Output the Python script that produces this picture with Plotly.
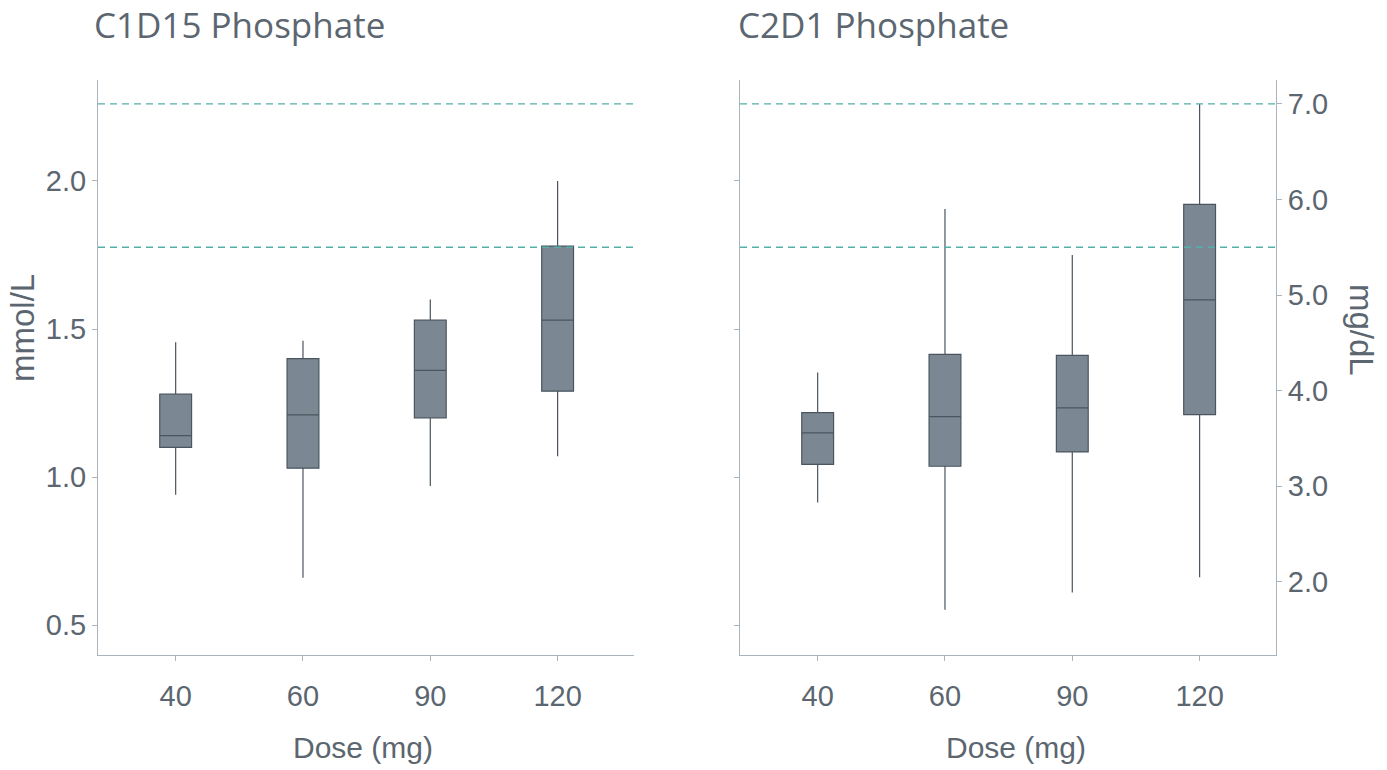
import plotly.graph_objects as go

# ---- data ----
doses = ["40", "60", "90", "120"]

# C1D15 phosphate (mmol/L)
c1d15_low = [0.94, 0.66, 0.97, 1.07]
c1d15_q1 = [1.10, 1.03, 1.20, 1.29]
c1d15_med = [1.14, 1.21, 1.36, 1.53]
c1d15_q3 = [1.28, 1.40, 1.53, 1.78]
c1d15_high = [1.455, 1.46, 1.60, 2.00]

# C2D1 phosphate (mg/dL)
c2d1_low = [2.83, 1.71, 1.89, 2.05]
c2d1_q1 = [3.23, 3.21, 3.36, 3.75]
c2d1_med = [3.56, 3.73, 3.82, 4.95]
c2d1_q3 = [3.77, 4.38, 4.37, 5.95]
c2d1_high = [4.19, 5.90, 5.42, 7.00]

ref_mgdl = [5.5, 7.0]          # reference limits (mg/dL)
MG_TO_MMOL = 0.3229
mmol_ticks = [0.5, 1.0, 1.5, 2.0]
mgdl_ticks = [2.0, 3.0, 4.0, 5.0, 6.0, 7.0]
mmol_range = [0.399, 2.341]
mgdl_range = [mmol_range[0] / MG_TO_MMOL, mmol_range[1] / MG_TO_MMOL]

W, H = 1387, 770
TXT = "#5b6670"
AX = "#aab4bd"
FILL = "#7b8893"
EDGE = "#4a555f"
REF = "#52b0a9"

def px(v):
    return v / W

def py(v):
    return 1 - v / H

fig = go.Figure()

fig.add_trace(go.Box(
    x=doses, q1=c1d15_q1, median=c1d15_med, q3=c1d15_q3,
    lowerfence=c1d15_low, upperfence=c1d15_high,
    xaxis="x", yaxis="y", width=0.25, whiskerwidth=0,
    fillcolor=FILL, line=dict(color=EDGE, width=1.2),
    boxpoints=False, showlegend=False, hoverinfo="skip"))

fig.add_trace(go.Box(
    x=doses, q1=c2d1_q1, median=c2d1_med, q3=c2d1_q3,
    lowerfence=c2d1_low, upperfence=c2d1_high,
    xaxis="x2", yaxis="y4", width=0.25, whiskerwidth=0,
    fillcolor=FILL, line=dict(color=EDGE, width=1.2),
    boxpoints=False, showlegend=False, hoverinfo="skip"))

xd1 = [px(98), px(634)]
xd2 = [px(740), px(1276)]
yd = [py(655), py(80)]

tickfont = dict(family="Liberation Sans, Arial, sans-serif", size=29, color=TXT)

xcommon = dict(type="category", categoryorder="array", categoryarray=doses,
               range=[-0.61, 3.6], showline=True, linecolor=AX, linewidth=1,
               ticks="outside", ticklen=5, tickcolor=AX, showgrid=False,
               zeroline=False, tickfont=tickfont, ticklabelstandoff=10)

ycommon = dict(showline=True, linecolor=AX, linewidth=1, ticks="outside",
               ticklen=5, tickcolor=AX, showgrid=False, zeroline=False,
               tickfont=tickfont)

fig.update_layout(
    width=W, height=H,
    margin=dict(l=0, r=0, t=0, b=0),
    paper_bgcolor="white", plot_bgcolor="white",
    xaxis=dict(domain=xd1, anchor="y", **xcommon),
    xaxis2=dict(domain=xd2, anchor="y2", **xcommon),
    yaxis=dict(domain=yd, anchor="x", range=mmol_range, tickvals=mmol_ticks,
               tickformat=".1f", **ycommon),
    yaxis3=dict(domain=yd, anchor="x", overlaying="y", side="right",
                range=mgdl_range, tickvals=mgdl_ticks, showticklabels=False,
                **ycommon),
    yaxis2=dict(domain=yd, anchor="x2", range=mmol_range, tickvals=mmol_ticks,
                showticklabels=False, **ycommon),
    yaxis4=dict(domain=yd, anchor="x2", overlaying="y2", side="right",
                range=mgdl_range, tickvals=mgdl_ticks, tickformat=".1f",
                **ycommon),
)

# reference lines
for r in ref_mgdl:
    for xr, yr in (("x domain", "y"), ("x2 domain", "y2")):
        fig.add_shape(type="line", xref=xr, yref=yr, x0=0, x1=1,
                      y0=r * MG_TO_MMOL, y1=r * MG_TO_MMOL,
                      line=dict(color=REF, width=1.4, dash="7px,5px"))

title_font = dict(family="Open Sans, sans-serif", size=35, color=TXT)
lab_font = dict(family="Liberation Sans, Arial, sans-serif", size=30, color=TXT)
ytitle_font = dict(family="Liberation Sans, Arial, sans-serif", size=33, color=TXT)

anns = [
    dict(text="C1D15 Phosphate", x=px(92), y=py(25), xanchor="left", yanchor="middle", font=title_font),
    dict(text="C2D1 Phosphate", x=px(736), y=py(25), xanchor="left", yanchor="middle", font=title_font),
    dict(text="Dose (mg)", x=px(363), y=py(747), xanchor="center", yanchor="middle", font=lab_font),
    dict(text="Dose (mg)", x=px(1016), y=py(747), xanchor="center", yanchor="middle", font=lab_font),
    dict(text="mmol/L", x=px(23), y=py(328), xanchor="center", yanchor="middle", textangle=-90, font=ytitle_font),
    dict(text="mg/dL", x=px(1362), y=py(330), xanchor="center", yanchor="middle", textangle=90, font=ytitle_font),
]
for a in anns:
    fig.add_annotation(xref="paper", yref="paper", showarrow=False, **a)

fig.write_html("out.html", config={"displayModeBar": False},
               post_script="document.body.style.margin='0';")
